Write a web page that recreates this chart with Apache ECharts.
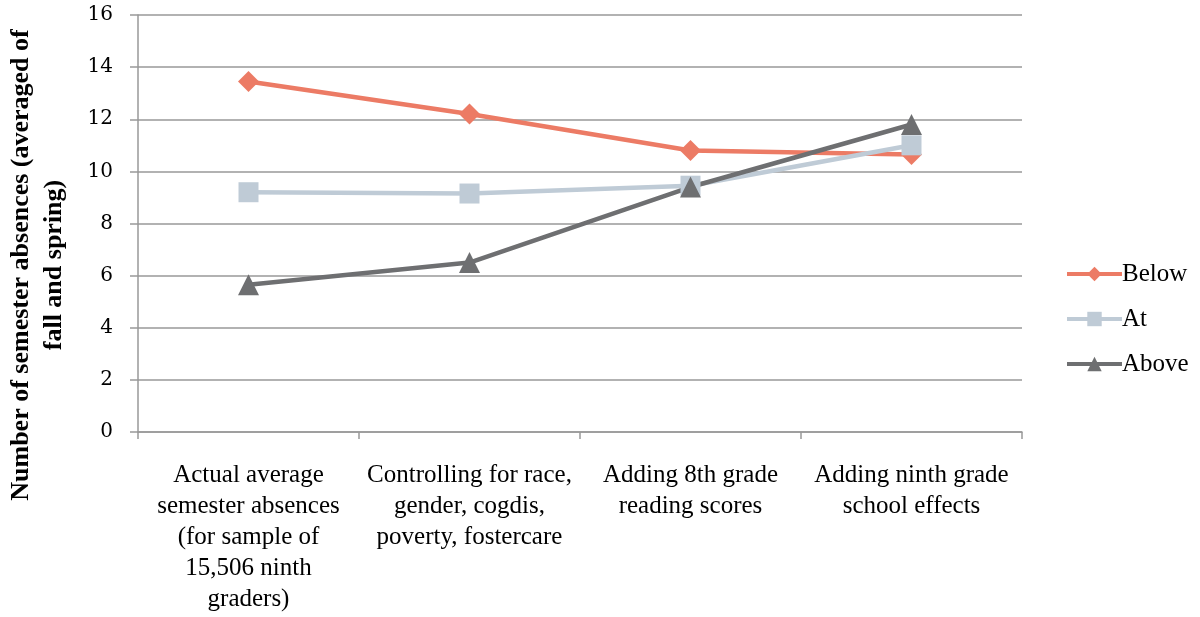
<!DOCTYPE html>
<html><head><meta charset="utf-8">
<script src="https://cdn.jsdelivr.net/npm/echarts@6/dist/echarts.min.js"></script>
<style>html,body{margin:0;padding:0;background:#fff}#c{width:1200px;height:617px}</style>
</head><body><div id="c"></div>
<script>
const categories = [
  "Actual average\nsemester absences\n(for sample of\n15,506 ninth\ngraders)",
  "Controlling for race,\ngender, cogdis,\npoverty, fostercare",
  "Adding 8th grade\nreading scores",
  "Adding ninth grade\nschool effects"
];
const below = [13.45, 12.2, 10.8, 10.65];
const at = [9.2, 9.15, 9.45, 11.0];
const above = [5.65, 6.5, 9.4, 11.8];
const yTicks = [0, 2, 4, 6, 8, 10, 12, 14, 16];
const yTitle = 'Number of semester absences (averaged of\nfall and spring)';

const chart = echarts.init(document.getElementById('c'));
const serif = "'Liberation Serif', 'DejaVu Serif', serif";
chart.setOption({
  animation: false,
  grid: {left: 138, right: 178, top: 15, bottom: 185, containLabel: false, outerBoundsMode: 'none'},
  legend: {
    orient: 'vertical', left: 1060, top: 256, itemGap: 19,
    itemWidth: 55, itemHeight: 18,
    lineStyle: {width: 4},
    textStyle: {fontFamily: serif, fontSize: 25, lineHeight: 26, color: '#000', padding: [0,0,0,-5]},
    data: ['Below', 'At', 'Above']
  },
  graphic: [{
    type: 'text', x: 38, y: 265, rotation: Math.PI / 2,
    style: {text: yTitle, fontFamily: serif, fontSize: 26, fontWeight: 'bold', fill: '#000',
      lineHeight: 33, align: 'center', verticalAlign: 'middle'}
  }],
  xAxis: {
    type: 'category', data: categories, boundaryGap: true,
    axisLine: {lineStyle: {color: '#999', width: 1.5}},
    axisTick: {show: true, length: 7, lineStyle: {color: '#999', width: 1.5}},
    axisLabel: {fontFamily: serif, fontSize: 25, color: '#000', lineHeight: 31, margin: 28, interval: 0}
  },
  yAxis: {
    type: 'value', min: 0, max: 16, interval: 2,
    axisLine: {show: true, lineStyle: {color: '#999', width: 1.5}},
    axisTick: {show: true, length: 8, lineStyle: {color: '#999', width: 1.5}},
    splitLine: {lineStyle: {color: '#999', width: 1.5}},
    axisLabel: {fontFamily: "'DejaVu Serif', serif", fontSize: 20, color: '#000', margin: 25,
      formatter: v => yTicks.includes(v) ? String(v) : ''}
  },
  series: [
    {name: 'Below', type: 'line', data: below, symbol: 'diamond', symbolSize: 21,
     lineStyle: {color: '#ec7b65', width: 4.5}, itemStyle: {color: '#ec7b65'}},
    {name: 'At', type: 'line', data: at, symbol: 'rect', symbolSize: 20,
     lineStyle: {color: '#bfcbd6', width: 4.5}, itemStyle: {color: '#bfcbd6'}},
    {name: 'Above', type: 'line', data: above, symbol: 'triangle', symbolSize: 21,
     lineStyle: {color: '#6e6f71', width: 4.5}, itemStyle: {color: '#6e6f71'}}
  ]
});
</script></body></html>
